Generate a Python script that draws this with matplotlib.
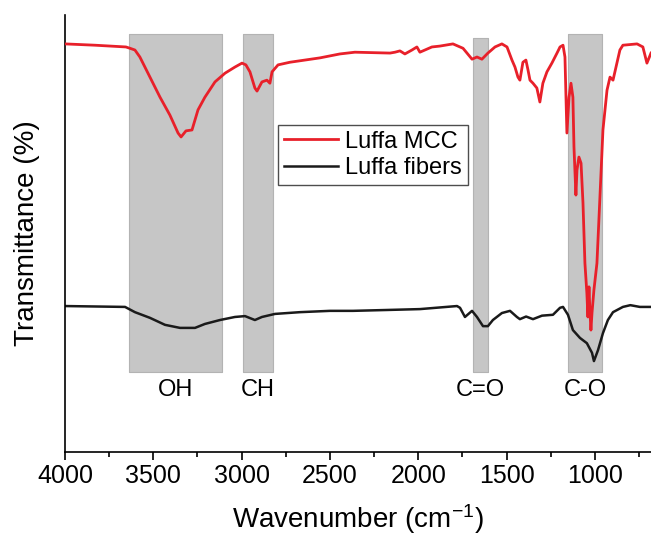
import numpy as np
import matplotlib
matplotlib.use("Agg")
import matplotlib.pyplot as plt

plt.rcParams['font.family'] = ['Liberation Sans', 'DejaVu Sans']
plt.rcParams['mathtext.fontset'] = 'custom'
plt.rcParams['mathtext.rm'] = 'Liberation Sans'
plt.rcParams['mathtext.it'] = 'Liberation Sans'

# FTIR spectra, wavenumber (cm-1) vs transmittance (offset, a.u.)
wn_mcc = [4000, 3830, 3655, 3632, 3604, 3576, 3519, 3462, 3406, 3360, 3343, 3315,
          3281, 3247, 3208, 3151, 3094, 3038, 2998, 2976, 2953, 2925, 2913, 2885,
          2857, 2840, 2828, 2794, 2727, 2557, 2444, 2359, 2160, 2132, 2104, 2076,
          2036, 2008, 1991, 1923, 1878, 1804, 1747, 1696, 1668, 1640, 1606, 1566,
          1527, 1498, 1470, 1453, 1436, 1425, 1408, 1391, 1379, 1368, 1351, 1329,
          1312, 1295, 1272, 1244, 1215, 1198, 1181, 1170, 1159, 1147, 1136, 1125,
          1119, 1108, 1102, 1091, 1079, 1068, 1057, 1046, 1040, 1034, 1029, 1023,
          1017, 1006, 989, 972, 955, 932, 915, 898, 876, 859, 842, 762, 729, 706, 683]
t_mcc = [93.4, 93.1, 92.7, 92.4, 92.0, 90.4, 85.8, 81.2, 77.1, 73.0, 72.1, 73.5,
         73.7, 78.3, 81.2, 84.7, 86.7, 88.1, 89.0, 88.6, 87.0, 83.3, 82.6, 84.7,
         85.1, 84.4, 87.0, 88.6, 89.2, 90.2, 91.1, 91.5, 91.3, 91.5, 91.8, 91.1,
         92.0, 92.7, 91.5, 92.7, 92.9, 93.4, 92.4, 89.9, 90.4, 89.9, 91.3, 92.7,
         93.4, 92.7, 89.7, 88.1, 85.8, 85.1, 89.2, 89.7, 87.4, 85.1, 84.4, 83.3,
         80.1, 84.4, 87.0, 89.0, 91.3, 92.7, 93.1, 90.4, 73.0, 81.2, 84.4, 81.2,
         69.8, 58.8, 64.5, 67.5, 66.1, 57.0, 43.2, 36.4, 30.9, 37.8, 32.5, 27.9,
         31.8, 37.1, 43.2, 58.4, 73.7, 82.8, 85.8, 85.1, 89.0, 92.0, 93.1, 93.4, 92.7, 89.0, 91.3]

wn_fib = [4000, 3660, 3604, 3519, 3434, 3349, 3264, 3208, 3123, 3038, 2981, 2925,
          2885, 2811, 2670, 2500, 2370, 2177, 1991, 1781, 1764, 1736, 1696, 1668,
          1634, 1606, 1578, 1527, 1481, 1442, 1425, 1390, 1351, 1300, 1238, 1198,
          1181, 1153, 1125, 1085, 1046, 1017, 1006, 983, 955, 927, 898, 842, 800,
          746, 683]
t_fib = [33.4, 33.2, 32.0, 30.7, 29.1, 28.4, 28.4, 29.3, 30.2, 30.9, 31.1, 30.2,
         30.9, 31.6, 32.0, 32.3, 32.3, 32.5, 32.7, 33.4, 33.0, 30.9, 32.3, 30.9,
         28.8, 28.8, 30.2, 31.8, 32.3, 30.9, 30.4, 31.0, 30.4, 31.2, 31.4, 33.0,
         33.2, 31.4, 27.9, 26.1, 24.9, 22.7, 20.8, 23.3, 27.2, 30.2, 32.0, 33.2,
         33.6, 33.2, 33.2]

# highlighted absorption bands
band_names = ['OH', 'CH', 'C=O', 'C-O']
band_hi = [3640, 2990, 1690, 1153]
band_lo = [3110, 2825, 1605, 959]
band_top = [95.7, 95.7, 94.7, 95.7]
band_bottom = 18.3

fig = plt.figure(figsize=(6.51, 5.38), dpi=100)
ax = fig.add_axes([0.0998, 0.1599, 0.9002, 0.8121])

for name, hi, lo, top in zip(band_names, band_hi, band_lo, band_top):
    ax.fill_between([lo, hi], band_bottom, top, color='#c6c6c6',
                    edgecolor='#b3b3b3', linewidth=0.8, zorder=1)
    ax.text((lo + hi) / 2, 14.2, name, ha='center', va='center', fontsize=17)

ax.plot(wn_mcc, t_mcc, color='#e8202a', lw=2.0, label='Luffa MCC', zorder=3)
ax.plot(wn_fib, t_fib, color='#1a1a1a', lw=1.8, label='Luffa fibers', zorder=2)

ax.set_xlim(4000, 683)
ax.set_ylim(0, 100)
ax.set_xticks([4000, 3500, 3000, 2500, 2000, 1500, 1000])
ax.set_xticks(np.arange(3750, 683, -500), minor=True)
ax.set_yticks([])
ax.tick_params(axis='x', which='major', direction='out', length=6, width=1.2,
               labelsize=18, pad=3)
ax.tick_params(axis='x', which='minor', direction='out', length=3.5, width=1.2)
for s in ['top', 'right']:
    ax.spines[s].set_visible(False)
for s in ['left', 'bottom']:
    ax.spines[s].set_linewidth(1.2)

ax.set_xlabel('Wavenumber (cm$^{-1}$)', fontsize=20, labelpad=10)
ax.set_ylabel('Transmittance (%)', fontsize=20, labelpad=18)

leg = ax.legend(loc='upper left', bbox_to_anchor=(0.427, 0.768),
                bbox_transform=fig.transFigure, fontsize=17, frameon=True,
                fancybox=False, edgecolor='#222222', handlelength=2.3,
                handletextpad=0.3, borderpad=0.25, labelspacing=0.2,
                borderaxespad=0)
leg.get_frame().set_linewidth(1.0)

fig.savefig('out.png', dpi=100)
